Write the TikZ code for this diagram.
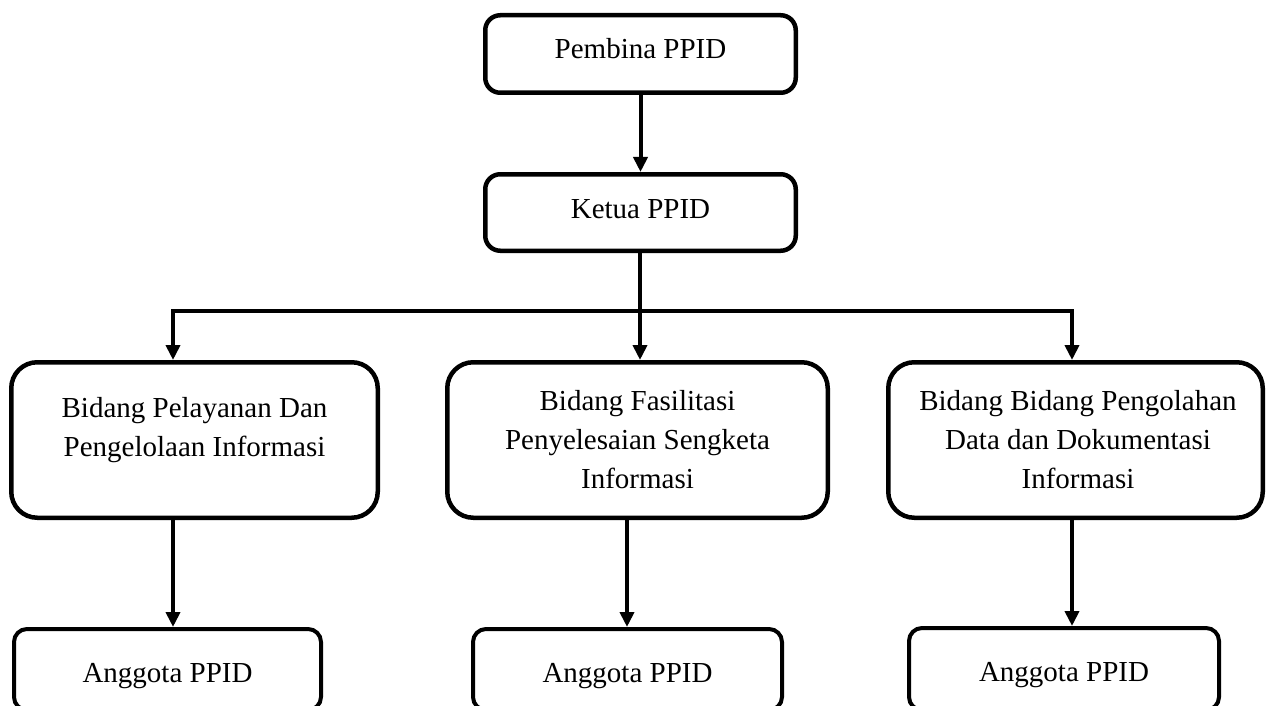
\documentclass[tikz,border=0pt]{standalone}
\usepackage{fontspec}
\setmainfont{Liberation Serif}
\usetikzlibrary{arrows.meta}
\newcommand\tstr{\rule{0pt}{22pt}}
\begin{document}
\begin{tikzpicture}[x=1pt,y=-1pt,
  box/.style={draw, line width=4.5pt, rounded corners=#1, inner sep=0pt},
  box/.default=15pt,
  tx/.style={font=\fontsize{29}{39}\selectfont, align=center, inner sep=0pt, anchor=north},
  ln/.style={line width=4pt},
  arr/.style={line width=4pt, -{Triangle[length=15pt,width=14pt]}}]
\useasboundingbox (0,0) rectangle (1269,706);
\clip (0,0) rectangle (1269,706);
% boxes
\node[box=15pt, minimum width=310.5pt, minimum height=77.5pt] (pembina) at (640.5,54) {};
\node[box=15pt, minimum width=310.5pt, minimum height=76.5pt] (ketua) at (640.5,212.5) {};
\node[box=26pt, minimum width=366.5pt, minimum height=155.5pt] (b1) at (194.5,440) {};
\node[box=26pt, minimum width=380.5pt, minimum height=155.5pt] (b2) at (637.5,440) {};
\node[box=26pt, minimum width=374.5pt, minimum height=155.5pt] (b3) at (1075.5,440) {};
\node[box=13pt, line width=4pt, minimum width=307pt, minimum height=81pt] (a1) at (167.5,669.5) {};
\node[box=13pt, line width=4pt, minimum width=309pt, minimum height=81pt] (a2) at (627.5,669.5) {};
\node[box=13pt, line width=4pt, minimum width=310pt, minimum height=82pt] (a3) at (1064,669) {};
% texts
\node[tx] (tpembina) at (640.5,36) {\tstr Pembina PPID};
\node[tx] (tketua) at (640.5,196) {\tstr Ketua PPID};
\node[tx] (tb1) at (194.5,395) {\tstr Bidang Pelayanan Dan\\Pengelolaan Informasi};
\node[tx] (tb2) at (637.5,388) {\tstr Bidang Fasilitasi\\Penyelesaian Sengketa\\Informasi};
\node[tx] (tb3) at (1078,388) {\tstr Bidang Bidang Pengolahan\\Data dan Dokumentasi\\Informasi};
\node[tx] (ta1) at (167.5,660) {\tstr Anggota PPID};
\node[tx] (ta2) at (627.5,660) {\tstr Anggota PPID};
\node[tx] (ta3) at (1064,659) {\tstr Anggota PPID};
% connectors
\coordinate (bus) at (640,311);
\coordinate (j1) at (173,311);
\coordinate (j3) at (1072,311);
\coordinate (m2) at (627,0);
\draw[arr] (pembina.south) -- (ketua.north);
\draw[ln] (bus |- ketua.south) -- (bus);
\draw[arr] (bus) -- (j1) -- (j1 |- b1.north);
\draw[arr] (bus) -- (j3) -- (j3 |- b3.north);
\draw[arr] (bus) -- (bus |- b2.north);
\draw[arr] (j1 |- b1.south) -- (j1 |- a1.north);
\draw[arr] (m2 |- b2.south) -- (m2 |- a2.north);
\draw[arr] (j3 |- b3.south) -- (j3 |- a3.north);
\end{tikzpicture}
\end{document}
